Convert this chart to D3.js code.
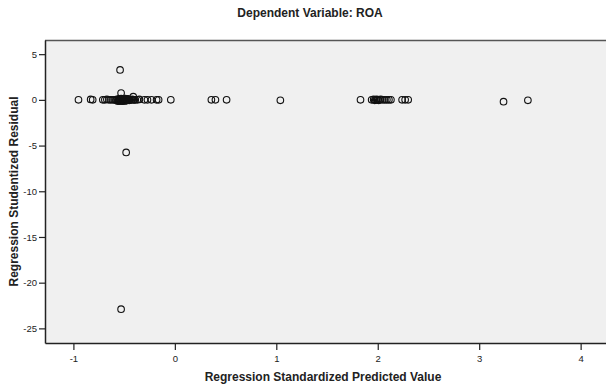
<!DOCTYPE html>
<html>
<head>
<meta charset="utf-8">
<script src="https://cdn.jsdelivr.net/npm/d3@7"></script>
<style>
  body { margin: 0; background: #fff; }
  svg text { font-family: "Liberation Sans", Arial, sans-serif; }
</style>
</head>
<body>
<div id="chart"></div>
<script>
// Chart text
const chartTitle = "Dependent Variable: ROA";
const xLabel = "Regression Standardized Predicted Value";
const yLabel = "Regression Studentized Residual";

// Tick values
const xTicks = [-1, 0, 1, 2, 3, 4];
const yTicks = [5, 0, -5, -10, -15, -20, -25];

// Predicted values (x) and studentized residuals (y)
const predicted = [
  -0.95, -0.83, -0.81, -0.71, -0.69, -0.67, -0.65, -0.63, -0.61,
  -0.59, -0.58, -0.57, -0.56, -0.55, -0.55, -0.54, -0.54, -0.53, -0.53,
  -0.52, -0.52, -0.51, -0.51, -0.50, -0.50, -0.49, -0.49, -0.48, -0.48,
  -0.47, -0.47, -0.46, -0.45, -0.45, -0.44, -0.43, -0.42, -0.41, -0.40,
  -0.56, -0.55, -0.54, -0.53, -0.52, -0.51, -0.50, -0.49, -0.48, -0.47,
  -0.39, -0.37, -0.35, -0.30, -0.27, -0.23, -0.18, -0.16, -0.04,
  0.36, 0.40, 0.51, 1.04,
  1.83, 1.94, 1.96, 1.97, 1.98, 1.99, 2.00, 2.01, 2.02, 2.03, 2.05,
  2.07, 2.09, 2.11, 2.13, 2.24, 2.27, 2.30,
  3.24, 3.48,
  -0.54, -0.53, -0.41, -0.48, -0.53
];
const residual = [
  0.0, 0.05, 0.0, 0.0, 0.0, 0.05, 0.0, 0.0, 0.0,
  0.0, -0.05, 0.05, 0.0, -0.1, 0.05, 0.0, -0.05, 0.1, 0.0,
  -0.05, 0.05, 0.0, -0.1, 0.05, 0.0, -0.05, 0.0, 0.05, -0.05,
  0.0, 0.1, 0.0, -0.05, 0.05, 0.0, 0.0, 0.05, 0.0, 0.0,
  -0.15, 0.12, -0.12, 0.15, -0.15, 0.12, -0.12, 0.15, -0.1, 0.1,
  0.0, 0.0, 0.05, 0.0, 0.0, 0.0, 0.0, 0.0, 0.0,
  0.0, 0.0, 0.0, -0.05,
  0.0, 0.0, 0.05, -0.05, 0.0, 0.05, 0.0, -0.05, 0.0, 0.05, 0.0,
  0.0, 0.0, 0.0, 0.0, 0.0, 0.0, 0.0,
  -0.2, -0.05,
  3.28, 0.75, 0.35, -5.75, -22.9
];

const points = predicted.map((v, i) => ({ x: v, y: residual[i] }));

const width = 606, height = 387;
const margin = { top: 40, right: 0, bottom: 44, left: 45 };
const innerW = width - margin.left - margin.right;
const innerH = height - margin.top - margin.bottom;

const svg = d3.select("#chart").append("svg")
  .attr("width", width)
  .attr("height", height);

const g = svg.append("g")
  .attr("transform", `translate(${margin.left},${margin.top})`);

const x = d3.scaleLinear().domain([-1.28, 4.25]).range([0, innerW]);
const y = d3.scaleLinear().domain([6.55, -26.6]).range([0, innerH]);

// Plot background
g.append("rect")
  .attr("width", innerW)
  .attr("height", innerH)
  .attr("fill", "#f0f0f0");

// Frame line on top
g.append("line").attr("x1", 0).attr("x2", innerW).attr("y1", 0.5).attr("y2", 0.5)
  .attr("stroke", "#555").attr("stroke-width", 1.5);

// Axes (plain hyphen minus, as in the original)
const fmt = d => String(d);
const xAxis = g.append("g")
  .attr("transform", `translate(0,${innerH})`)
  .call(d3.axisBottom(x).tickValues(xTicks).tickFormat(fmt).tickSize(7).tickSizeOuter(0).tickPadding(5));
const yAxis = g.append("g")
  .call(d3.axisLeft(y).tickValues(yTicks).tickFormat(fmt).tickSize(6).tickSizeOuter(0).tickPadding(2));

[xAxis, yAxis].forEach(a => {
  a.select(".domain").attr("stroke", "#222").attr("stroke-width", 1.5);
  a.selectAll(".tick line").attr("stroke", "#222").attr("stroke-width", 1.2);
  a.selectAll(".tick text").attr("font-size", "9.5px").attr("fill", "#222")
    .style("font-family", "'Liberation Sans', Arial, sans-serif");
});

// Points
g.append("g").selectAll("circle")
  .data(points)
  .enter()
  .append("circle")
  .attr("cx", d => x(d.x))
  .attr("cy", d => y(d.y))
  .attr("r", 3.3)
  .attr("fill", "none")
  .attr("stroke", "#111")
  .attr("stroke-width", 1.1);

// Title
svg.append("text")
  .attr("x", 310)
  .attr("y", 17)
  .attr("text-anchor", "middle")
  .attr("font-size", "12px")
  .attr("font-weight", "bold")
  .attr("fill", "#222")
  .text(chartTitle);

// Axis labels
svg.append("text")
  .attr("x", 323)
  .attr("y", 381)
  .attr("text-anchor", "middle")
  .attr("font-size", "12px")
  .attr("font-weight", "bold")
  .attr("fill", "#222")
  .text(xLabel);

svg.append("text")
  .attr("transform", `translate(18,${margin.top + innerH / 2}) rotate(-90)`)
  .attr("text-anchor", "middle")
  .attr("font-size", "12px")
  .attr("font-weight", "bold")
  .attr("fill", "#222")
  .text(yLabel);
</script>
</body>
</html>
